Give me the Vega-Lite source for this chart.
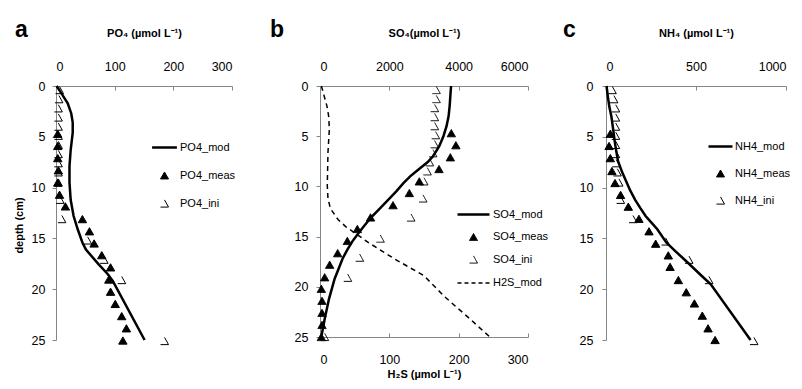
{
  "$schema": "https://vega.github.io/schema/vega-lite/v6.json",
  "background": "white",
  "padding": {"left": 13, "top": 19, "right": 0, "bottom": 0},
  "spacing": 14,
  "resolve": {
    "scale": {"shape": "independent", "fill": "independent", "stroke": "independent", "strokeWidth": "independent", "strokeDash": "independent"},
    "legend": {"shape": "independent", "fill": "independent", "stroke": "independent", "strokeWidth": "independent", "strokeDash": "independent"}
  },
  "config": {
    "view": {"stroke": null},
    "axis": {"grid": false, "domainColor": "#868686", "tickColor": "#868686", "domainWidth": 1, "tickWidth": 1, "format": "d",
      "labelFont": "Liberation Sans", "labelFontSize": 12.5, "labelColor": "black",
      "titleFont": "Liberation Sans", "titleFontSize": 11, "titleFontWeight": "bold", "titleColor": "black"},
    "legend": {"labelFont": "Liberation Sans", "labelFontSize": 11, "labelColor": "black"},
    "title": {"font": "Liberation Sans", "fontSize": 23, "fontWeight": "bold", "anchor": "start", "frame": "group", "baseline": "alphabetic", "color": "black"}
  },
  "datasets": {
    "po4_mod": [
      {"depth": 0, "value": 1}, {"depth": 0.7, "value": 9}, {"depth": 1.7, "value": 20}, {"depth": 2.7, "value": 26},
      {"depth": 3.6, "value": 28.5}, {"depth": 4.6, "value": 28.5}, {"depth": 6.3, "value": 25}, {"depth": 7.9, "value": 23},
      {"depth": 9.5, "value": 23}, {"depth": 11.2, "value": 25}, {"depth": 12.8, "value": 30}, {"depth": 14.1, "value": 37},
      {"depth": 15.4, "value": 45}, {"depth": 16.1, "value": 51}, {"depth": 17.5, "value": 72}, {"depth": 18.5, "value": 88},
      {"depth": 19.2, "value": 97}, {"depth": 25, "value": 151}
    ],
    "po4_meas": [
      {"depth": 4.7, "value": 3, "series": "PO4_meas"}, {"depth": 5.9, "value": 3, "series": "PO4_meas"},
      {"depth": 7.1, "value": 3, "series": "PO4_meas"}, {"depth": 8.3, "value": 4, "series": "PO4_meas"},
      {"depth": 9.5, "value": 3, "series": "PO4_meas"}, {"depth": 10.7, "value": 6, "series": "PO4_meas"},
      {"depth": 11.85, "value": 16, "series": "PO4_meas"}, {"depth": 13.1, "value": 45, "series": "PO4_meas"},
      {"depth": 14.3, "value": 57, "series": "PO4_meas"}, {"depth": 15.5, "value": 65, "series": "PO4_meas"},
      {"depth": 16.65, "value": 78, "series": "PO4_meas"}, {"depth": 17.85, "value": 93, "series": "PO4_meas"},
      {"depth": 19.05, "value": 90, "series": "PO4_meas"}, {"depth": 20.25, "value": 93, "series": "PO4_meas"},
      {"depth": 21.45, "value": 101, "series": "PO4_meas"}, {"depth": 22.65, "value": 112, "series": "PO4_meas"},
      {"depth": 23.85, "value": 120, "series": "PO4_meas"}, {"depth": 25.05, "value": 114, "series": "PO4_meas"}
    ],
    "po4_ini": [
      {"depth": 0.4, "value": 6, "series": "PO4_ini"}, {"depth": 1.3, "value": 5, "series": "PO4_ini"},
      {"depth": 2.2, "value": 4, "series": "PO4_ini"}, {"depth": 3.1, "value": 4, "series": "PO4_ini"},
      {"depth": 4.0, "value": 4, "series": "PO4_ini"}, {"depth": 4.9, "value": 4, "series": "PO4_ini"},
      {"depth": 5.8, "value": 4, "series": "PO4_ini"}, {"depth": 6.7, "value": 4, "series": "PO4_ini"},
      {"depth": 7.6, "value": 4, "series": "PO4_ini"}, {"depth": 8.5, "value": 4, "series": "PO4_ini"},
      {"depth": 9.5, "value": 4, "series": "PO4_ini"}, {"depth": 11.2, "value": 7, "series": "PO4_ini"},
      {"depth": 13.1, "value": 10, "series": "PO4_ini"}, {"depth": 15.2, "value": 54, "series": "PO4_ini"},
      {"depth": 17.1, "value": 82, "series": "PO4_ini"}, {"depth": 19.1, "value": 112, "series": "PO4_ini"},
      {"depth": 25.1, "value": 185, "series": "PO4_ini"}
    ],
    "so4_mod": [
      {"depth": 0, "value": 3780}, {"depth": 1, "value": 3760}, {"depth": 2, "value": 3740}, {"depth": 3, "value": 3710},
      {"depth": 4, "value": 3650}, {"depth": 5, "value": 3560}, {"depth": 6, "value": 3440}, {"depth": 7, "value": 3260},
      {"depth": 7.6, "value": 3100}, {"depth": 8.3, "value": 2850}, {"depth": 9, "value": 2600}, {"depth": 9.7, "value": 2400},
      {"depth": 10.5, "value": 2200}, {"depth": 11.3, "value": 1980}, {"depth": 12.2, "value": 1730}, {"depth": 13.1, "value": 1470},
      {"depth": 14, "value": 1260}, {"depth": 14.8, "value": 1080}, {"depth": 15.5, "value": 930}, {"depth": 16.3, "value": 790},
      {"depth": 17.2, "value": 650}, {"depth": 18, "value": 560}, {"depth": 19.2, "value": 423}, {"depth": 21.2, "value": 260},
      {"depth": 23.2, "value": 135}, {"depth": 25, "value": 38}
    ],
    "so4_meas": [
      {"depth": 4.7, "value": 3788, "series": "SO4_meas"}, {"depth": 5.9, "value": 3920, "series": "SO4_meas"},
      {"depth": 7.1, "value": 3760, "series": "SO4_meas"}, {"depth": 8.27, "value": 3433, "series": "SO4_meas"},
      {"depth": 9.5, "value": 2865, "series": "SO4_meas"}, {"depth": 10.66, "value": 2577, "series": "SO4_meas"},
      {"depth": 11.87, "value": 2106, "series": "SO4_meas"}, {"depth": 13.09, "value": 1457, "series": "SO4_meas"},
      {"depth": 14.24, "value": 1077, "series": "SO4_meas"}, {"depth": 15.43, "value": 788, "series": "SO4_meas"},
      {"depth": 16.65, "value": 510, "series": "SO4_meas"}, {"depth": 17.8, "value": 279, "series": "SO4_meas"},
      {"depth": 19.05, "value": 135, "series": "SO4_meas"}, {"depth": 20.2, "value": 38, "series": "SO4_meas"},
      {"depth": 21.4, "value": 58, "series": "SO4_meas"}, {"depth": 22.6, "value": 58, "series": "SO4_meas"},
      {"depth": 23.8, "value": 58, "series": "SO4_meas"}, {"depth": 25.0, "value": 38, "series": "SO4_meas"}
    ],
    "so4_ini": [
      {"depth": 0.4, "value": 3355, "series": "SO4_ini"}, {"depth": 1.3, "value": 3355, "series": "SO4_ini"},
      {"depth": 2.2, "value": 3307, "series": "SO4_ini"}, {"depth": 3.1, "value": 3307, "series": "SO4_ini"},
      {"depth": 4.0, "value": 3307, "series": "SO4_ini"}, {"depth": 4.9, "value": 3336, "series": "SO4_ini"},
      {"depth": 5.8, "value": 3307, "series": "SO4_ini"}, {"depth": 6.7, "value": 3259, "series": "SO4_ini"},
      {"depth": 7.6, "value": 3163, "series": "SO4_ini"}, {"depth": 8.5, "value": 3096, "series": "SO4_ini"},
      {"depth": 9.5, "value": 3000, "series": "SO4_ini"}, {"depth": 11.2, "value": 2971, "series": "SO4_ini"},
      {"depth": 13.1, "value": 2625, "series": "SO4_ini"}, {"depth": 15.2, "value": 1740, "series": "SO4_ini"},
      {"depth": 17.1, "value": 1144, "series": "SO4_ini"}, {"depth": 19.1, "value": 800, "series": "SO4_ini"},
      {"depth": 25.0, "value": 135, "series": "SO4_ini"}
    ],
    "h2s_mod": [
      {"depth": 0, "value": 2}, {"depth": 1, "value": 6}, {"depth": 2, "value": 10}, {"depth": 3, "value": 12.5},
      {"depth": 4.3, "value": 13.5}, {"depth": 6.6, "value": 11.5}, {"depth": 9.9, "value": 10.5}, {"depth": 11.2, "value": 11.5},
      {"depth": 12.2, "value": 15}, {"depth": 13.3, "value": 26}, {"depth": 14, "value": 37}, {"depth": 15.6, "value": 70},
      {"depth": 17.2, "value": 107}, {"depth": 18.9, "value": 150}, {"depth": 21, "value": 180}, {"depth": 23, "value": 213},
      {"depth": 25, "value": 245}
    ],
    "nh4_mod": [
      {"depth": 0, "value": 3}, {"depth": 1, "value": 10}, {"depth": 2, "value": 18}, {"depth": 3, "value": 30},
      {"depth": 4.3, "value": 40}, {"depth": 5.4, "value": 48}, {"depth": 6.3, "value": 56}, {"depth": 7.4, "value": 67},
      {"depth": 8.5, "value": 90}, {"depth": 9.5, "value": 115}, {"depth": 10.3, "value": 135}, {"depth": 11.2, "value": 162},
      {"depth": 12, "value": 190}, {"depth": 12.8, "value": 220}, {"depth": 13.5, "value": 255}, {"depth": 14.1, "value": 285},
      {"depth": 15.4, "value": 335}, {"depth": 16.2, "value": 382}, {"depth": 17.2, "value": 443}, {"depth": 18.9, "value": 544},
      {"depth": 19.5, "value": 581}, {"depth": 25, "value": 803}
    ],
    "nh4_meas": [
      {"depth": 4.7, "value": 24, "series": "NH4_meas"}, {"depth": 5.9, "value": 17, "series": "NH4_meas"},
      {"depth": 7.1, "value": 24, "series": "NH4_meas"}, {"depth": 8.37, "value": 33, "series": "NH4_meas"},
      {"depth": 9.55, "value": 50, "series": "NH4_meas"}, {"depth": 10.72, "value": 81, "series": "NH4_meas"},
      {"depth": 11.88, "value": 124, "series": "NH4_meas"}, {"depth": 13.07, "value": 183, "series": "NH4_meas"},
      {"depth": 14.3, "value": 239, "series": "NH4_meas"}, {"depth": 15.52, "value": 276, "series": "NH4_meas"},
      {"depth": 16.67, "value": 346, "series": "NH4_meas"}, {"depth": 17.8, "value": 356, "series": "NH4_meas"},
      {"depth": 19.1, "value": 402, "series": "NH4_meas"}, {"depth": 20.3, "value": 446, "series": "NH4_meas"},
      {"depth": 21.4, "value": 491, "series": "NH4_meas"}, {"depth": 22.6, "value": 535, "series": "NH4_meas"},
      {"depth": 23.85, "value": 567, "series": "NH4_meas"}, {"depth": 25.0, "value": 606, "series": "NH4_meas"}
    ],
    "nh4_ini": [
      {"depth": 0.4, "value": 35, "series": "NH4_ini"}, {"depth": 1.3, "value": 44, "series": "NH4_ini"},
      {"depth": 2.2, "value": 54, "series": "NH4_ini"}, {"depth": 3.1, "value": 54, "series": "NH4_ini"},
      {"depth": 4.0, "value": 54, "series": "NH4_ini"}, {"depth": 4.9, "value": 54, "series": "NH4_ini"},
      {"depth": 5.8, "value": 54, "series": "NH4_ini"}, {"depth": 6.7, "value": 54, "series": "NH4_ini"},
      {"depth": 7.6, "value": 57, "series": "NH4_ini"}, {"depth": 8.5, "value": 63, "series": "NH4_ini"},
      {"depth": 9.5, "value": 72, "series": "NH4_ini"}, {"depth": 11.2, "value": 81, "series": "NH4_ini"},
      {"depth": 13.1, "value": 150, "series": "NH4_ini"}, {"depth": 15.3, "value": 331, "series": "NH4_ini"},
      {"depth": 17.1, "value": 461, "series": "NH4_ini"}, {"depth": 19.1, "value": 572, "series": "NH4_ini"},
      {"depth": 25.1, "value": 822, "series": "NH4_ini"}
    ]
  },
  "hconcat": [
    {
      "width": 176, "height": 254,
      "title": {"text": "a", "dx": -41, "offset": -15},
      "layer": [
        {"data": {"name": "po4_mod"}, "mark": {"type": "line", "color": "black", "strokeWidth": 2.5},
          "encoding": {
            "x": {"field": "value", "type": "quantitative", "title": "PO₄ (µmol L⁻¹)", "scale": {"domain": [0, 300], "nice": false, "zero": false},
              "axis": {"orient": "top", "values": [0, 100, 200, 300], "tickSize": -4, "labelPadding": 17, "titlePadding": 22}},
            "y": {"field": "depth", "type": "quantitative", "title": "depth (cm)", "scale": {"domain": [0, 25], "reverse": true, "nice": false, "zero": false},
              "axis": {"values": [0, 5, 10, 15, 20, 25], "tickSize": 4, "labelPadding": 7, "titlePadding": 7, "titleY": 139}},
            "order": {"field": "depth", "type": "quantitative"}}},
        {"data": {"name": "po4_meas"}, "mark": {"type": "point", "filled": true, "opacity": 1, "size": 70},
          "encoding": {
            "x": {"field": "value", "type": "quantitative", "title": "PO₄ (µmol L⁻¹)", "scale": {"domain": [0, 300], "nice": false, "zero": false}},
            "y": {"field": "depth", "type": "quantitative", "title": "depth (cm)", "scale": {"domain": [0, 25], "reverse": true, "nice": false, "zero": false}},
            "shape": {"field": "series", "type": "nominal", "scale": {"domain": ["PO4_mod", "PO4_meas", "PO4_ini"], "range": ["M-3.1,0L3.1,0", "triangle-up", "M0,-0.9L1,0.9L-1,0.9"]},
              "legend": {"orient": "none", "legendX": 103, "legendY": 56, "title": null, "padding": 0, "symbolSize": 64, "labelOffset": 10, "rowPadding": 16}},
            "fill": {"field": "series", "type": "nominal", "scale": {"domain": ["PO4_mod", "PO4_meas", "PO4_ini"], "range": ["transparent", "black", "transparent"]},
              "legend": {"orient": "none", "legendX": 103, "legendY": 56, "title": null, "padding": 0, "symbolSize": 64, "labelOffset": 10, "rowPadding": 16}},
            "stroke": {"field": "series", "type": "nominal", "scale": {"domain": ["PO4_mod", "PO4_meas", "PO4_ini"], "range": ["black", "black", "black"]},
              "legend": {"orient": "none", "legendX": 103, "legendY": 56, "title": null, "padding": 0, "symbolSize": 64, "labelOffset": 10, "rowPadding": 16}},
            "strokeWidth": {"field": "series", "type": "nominal", "scale": {"type": "ordinal", "domain": ["PO4_mod", "PO4_meas", "PO4_ini"], "range": [2.5, 1, 1]},
              "legend": {"orient": "none", "legendX": 103, "legendY": 56, "title": null, "padding": 0, "symbolSize": 64, "labelOffset": 10, "rowPadding": 16}}}},
        {"data": {"name": "po4_ini"}, "mark": {"type": "point", "filled": true, "opacity": 1, "size": 64},
          "encoding": {
            "x": {"field": "value", "type": "quantitative", "title": "PO₄ (µmol L⁻¹)", "scale": {"domain": [0, 300], "nice": false, "zero": false}},
            "y": {"field": "depth", "type": "quantitative", "title": "depth (cm)", "scale": {"domain": [0, 25], "reverse": true, "nice": false, "zero": false}},
            "shape": {"field": "series", "type": "nominal", "scale": {"domain": ["PO4_mod", "PO4_meas", "PO4_ini"], "range": ["M-3.1,0L3.1,0", "triangle-up", "M0,-0.9L1,0.9L-1,0.9"]},
              "legend": {"orient": "none", "legendX": 103, "legendY": 56, "title": null, "padding": 0, "symbolSize": 64, "labelOffset": 10, "rowPadding": 16}},
            "fill": {"field": "series", "type": "nominal", "scale": {"domain": ["PO4_mod", "PO4_meas", "PO4_ini"], "range": ["transparent", "black", "transparent"]},
              "legend": {"orient": "none", "legendX": 103, "legendY": 56, "title": null, "padding": 0, "symbolSize": 64, "labelOffset": 10, "rowPadding": 16}},
            "stroke": {"field": "series", "type": "nominal", "scale": {"domain": ["PO4_mod", "PO4_meas", "PO4_ini"], "range": ["black", "black", "black"]},
              "legend": {"orient": "none", "legendX": 103, "legendY": 56, "title": null, "padding": 0, "symbolSize": 64, "labelOffset": 10, "rowPadding": 16}},
            "strokeWidth": {"field": "series", "type": "nominal", "scale": {"type": "ordinal", "domain": ["PO4_mod", "PO4_meas", "PO4_ini"], "range": [2.5, 1, 1]},
              "legend": {"orient": "none", "legendX": 103, "legendY": 56, "title": null, "padding": 0, "symbolSize": 64, "labelOffset": 10, "rowPadding": 16}}}}
      ]
    },
    {
      "width": 208, "height": 251,
      "title": {"text": "b", "dx": -50, "offset": -15},
      "layer": [
        {"layer": [
          {"data": {"name": "so4_mod"}, "mark": {"type": "line", "color": "black", "strokeWidth": 2.5},
            "encoding": {
              "x": {"field": "value", "type": "quantitative", "title": "SO₄(µmol L⁻¹)", "scale": {"domain": [0, 6000], "nice": false, "zero": false},
                "axis": {"orient": "top", "values": [0, 2000, 4000, 6000], "tickSize": -4, "labelPadding": 17, "titlePadding": 22}},
              "y": {"field": "depth", "type": "quantitative", "title": ".", "scale": {"domain": [0, 25], "reverse": true, "nice": false, "zero": false},
                "axis": {"values": [0, 5, 10, 15, 20, 25], "tickSize": 4, "labelPadding": 8, "titlePadding": 33, "titleColor": "transparent"}},
              "order": {"field": "depth", "type": "quantitative"}}},
          {"data": {"name": "so4_meas"}, "mark": {"type": "point", "filled": true, "opacity": 1, "size": 70},
            "encoding": {
              "x": {"field": "value", "type": "quantitative", "title": "SO₄(µmol L⁻¹)", "scale": {"domain": [0, 6000], "nice": false, "zero": false}},
              "y": {"field": "depth", "type": "quantitative", "title": ".", "scale": {"domain": [0, 25], "reverse": true, "nice": false, "zero": false}},
              "shape": {"field": "series", "type": "nominal", "scale": {"domain": ["SO4_mod", "SO4_meas", "SO4_ini", "H2S_mod"], "range": ["M-4,0L4,0", "triangle-up", "M0,-0.9L1,0.9L-1,0.9", "M-4,0L4,0"]},
                "legend": {"orient": "none", "legendX": 148, "legendY": 123, "title": null, "padding": 0, "symbolSize": 64, "labelOffset": 14, "rowPadding": 10.5}},
              "fill": {"field": "series", "type": "nominal", "scale": {"domain": ["SO4_mod", "SO4_meas", "SO4_ini", "H2S_mod"], "range": ["transparent", "black", "transparent", "transparent"]},
                "legend": {"orient": "none", "legendX": 148, "legendY": 123, "title": null, "padding": 0, "symbolSize": 64, "labelOffset": 14, "rowPadding": 10.5}},
              "stroke": {"field": "series", "type": "nominal", "scale": {"domain": ["SO4_mod", "SO4_meas", "SO4_ini", "H2S_mod"], "range": ["black", "black", "black", "black"]},
                "legend": {"orient": "none", "legendX": 148, "legendY": 123, "title": null, "padding": 0, "symbolSize": 64, "labelOffset": 14, "rowPadding": 10.5}},
              "strokeWidth": {"field": "series", "type": "nominal", "scale": {"type": "ordinal", "domain": ["SO4_mod", "SO4_meas", "SO4_ini", "H2S_mod"], "range": [2.5, 1, 1, 1.5]},
                "legend": {"orient": "none", "legendX": 148, "legendY": 123, "title": null, "padding": 0, "symbolSize": 64, "labelOffset": 14, "rowPadding": 10.5}},
              "strokeDash": {"field": "series", "type": "nominal", "scale": {"domain": ["SO4_mod", "SO4_meas", "SO4_ini", "H2S_mod"], "range": [[1, 0], [1, 0], [1, 0], [4, 3]]},
                "legend": {"orient": "none", "legendX": 148, "legendY": 123, "title": null, "padding": 0, "symbolSize": 64, "labelOffset": 14, "rowPadding": 10.5}}}},
          {"data": {"name": "so4_ini"}, "mark": {"type": "point", "filled": true, "opacity": 1, "size": 64},
            "encoding": {
              "x": {"field": "value", "type": "quantitative", "title": "SO₄(µmol L⁻¹)", "scale": {"domain": [0, 6000], "nice": false, "zero": false}},
              "y": {"field": "depth", "type": "quantitative", "title": ".", "scale": {"domain": [0, 25], "reverse": true, "nice": false, "zero": false}},
              "shape": {"field": "series", "type": "nominal", "scale": {"domain": ["SO4_mod", "SO4_meas", "SO4_ini", "H2S_mod"], "range": ["M-4,0L4,0", "triangle-up", "M0,-0.9L1,0.9L-1,0.9", "M-4,0L4,0"]},
                "legend": {"orient": "none", "legendX": 148, "legendY": 123, "title": null, "padding": 0, "symbolSize": 64, "labelOffset": 14, "rowPadding": 10.5}},
              "fill": {"field": "series", "type": "nominal", "scale": {"domain": ["SO4_mod", "SO4_meas", "SO4_ini", "H2S_mod"], "range": ["transparent", "black", "transparent", "transparent"]},
                "legend": {"orient": "none", "legendX": 148, "legendY": 123, "title": null, "padding": 0, "symbolSize": 64, "labelOffset": 14, "rowPadding": 10.5}},
              "stroke": {"field": "series", "type": "nominal", "scale": {"domain": ["SO4_mod", "SO4_meas", "SO4_ini", "H2S_mod"], "range": ["black", "black", "black", "black"]},
                "legend": {"orient": "none", "legendX": 148, "legendY": 123, "title": null, "padding": 0, "symbolSize": 64, "labelOffset": 14, "rowPadding": 10.5}},
              "strokeWidth": {"field": "series", "type": "nominal", "scale": {"type": "ordinal", "domain": ["SO4_mod", "SO4_meas", "SO4_ini", "H2S_mod"], "range": [2.5, 1, 1, 1.5]},
                "legend": {"orient": "none", "legendX": 148, "legendY": 123, "title": null, "padding": 0, "symbolSize": 64, "labelOffset": 14, "rowPadding": 10.5}},
              "strokeDash": {"field": "series", "type": "nominal", "scale": {"domain": ["SO4_mod", "SO4_meas", "SO4_ini", "H2S_mod"], "range": [[1, 0], [1, 0], [1, 0], [4, 3]]},
                "legend": {"orient": "none", "legendX": 148, "legendY": 123, "title": null, "padding": 0, "symbolSize": 64, "labelOffset": 14, "rowPadding": 10.5}}}}
        ]},
        {"data": {"name": "h2s_mod"}, "mark": {"type": "line", "color": "black", "strokeWidth": 1.5, "strokeDash": [5, 4]},
          "encoding": {
            "x": {"field": "value", "type": "quantitative", "title": "H₂S (µmol L⁻¹)", "scale": {"domain": [0, 300], "nice": false, "zero": false},
              "axis": {"orient": "bottom", "values": [0, 100, 200, 300], "tickSize": -4, "labelPadding": 20, "titlePadding": 3}},
            "y": {"field": "depth", "type": "quantitative", "title": ".", "scale": {"domain": [0, 25], "reverse": true, "nice": false, "zero": false}},
            "order": {"field": "depth", "type": "quantitative"}}}
      ],
      "resolve": {"scale": {"x": "independent"}, "axis": {"x": "independent"}}
    },
    {
      "width": 180, "height": 254,
      "title": {"text": "c", "dx": -43, "offset": -15},
      "layer": [
        {"data": {"name": "nh4_mod"}, "mark": {"type": "line", "color": "black", "strokeWidth": 2.5},
          "encoding": {
            "x": {"field": "value", "type": "quantitative", "title": "NH₄ (µmol L⁻¹)", "scale": {"domain": [0, 1000], "nice": false, "zero": false},
              "axis": {"orient": "top", "values": [0, 500, 1000], "tickSize": -4, "labelPadding": 17, "titlePadding": 22}},
            "y": {"field": "depth", "type": "quantitative", "title": null, "scale": {"domain": [0, 25], "reverse": true, "nice": false, "zero": false},
              "axis": {"values": [0, 5, 10, 15, 20, 25], "tickSize": 4, "labelPadding": 9}},
            "order": {"field": "depth", "type": "quantitative"}}},
        {"data": {"name": "nh4_meas"}, "mark": {"type": "point", "filled": true, "opacity": 1, "size": 70},
          "encoding": {
            "x": {"field": "value", "type": "quantitative", "title": "NH₄ (µmol L⁻¹)", "scale": {"domain": [0, 1000], "nice": false, "zero": false}},
            "y": {"field": "depth", "type": "quantitative", "title": null, "scale": {"domain": [0, 25], "reverse": true, "nice": false, "zero": false}},
            "shape": {"field": "series", "type": "nominal", "scale": {"domain": ["NH4_mod", "NH4_meas", "NH4_ini"], "range": ["M-3,0L3,0", "triangle-up", "M0,-0.9L1,0.9L-1,0.9"]},
              "legend": {"orient": "none", "legendX": 109, "legendY": 55, "title": null, "padding": 0, "symbolSize": 64, "labelOffset": 9, "rowPadding": 15}},
            "fill": {"field": "series", "type": "nominal", "scale": {"domain": ["NH4_mod", "NH4_meas", "NH4_ini"], "range": ["transparent", "black", "transparent"]},
              "legend": {"orient": "none", "legendX": 109, "legendY": 55, "title": null, "padding": 0, "symbolSize": 64, "labelOffset": 9, "rowPadding": 15}},
            "stroke": {"field": "series", "type": "nominal", "scale": {"domain": ["NH4_mod", "NH4_meas", "NH4_ini"], "range": ["black", "black", "black"]},
              "legend": {"orient": "none", "legendX": 109, "legendY": 55, "title": null, "padding": 0, "symbolSize": 64, "labelOffset": 9, "rowPadding": 15}},
            "strokeWidth": {"field": "series", "type": "nominal", "scale": {"type": "ordinal", "domain": ["NH4_mod", "NH4_meas", "NH4_ini"], "range": [2.5, 1, 1]},
              "legend": {"orient": "none", "legendX": 109, "legendY": 55, "title": null, "padding": 0, "symbolSize": 64, "labelOffset": 9, "rowPadding": 15}}}},
        {"data": {"name": "nh4_ini"}, "mark": {"type": "point", "filled": true, "opacity": 1, "size": 64},
          "encoding": {
            "x": {"field": "value", "type": "quantitative", "title": "NH₄ (µmol L⁻¹)", "scale": {"domain": [0, 1000], "nice": false, "zero": false}},
            "y": {"field": "depth", "type": "quantitative", "title": null, "scale": {"domain": [0, 25], "reverse": true, "nice": false, "zero": false}},
            "shape": {"field": "series", "type": "nominal", "scale": {"domain": ["NH4_mod", "NH4_meas", "NH4_ini"], "range": ["M-3,0L3,0", "triangle-up", "M0,-0.9L1,0.9L-1,0.9"]},
              "legend": {"orient": "none", "legendX": 109, "legendY": 55, "title": null, "padding": 0, "symbolSize": 64, "labelOffset": 9, "rowPadding": 15}},
            "fill": {"field": "series", "type": "nominal", "scale": {"domain": ["NH4_mod", "NH4_meas", "NH4_ini"], "range": ["transparent", "black", "transparent"]},
              "legend": {"orient": "none", "legendX": 109, "legendY": 55, "title": null, "padding": 0, "symbolSize": 64, "labelOffset": 9, "rowPadding": 15}},
            "stroke": {"field": "series", "type": "nominal", "scale": {"domain": ["NH4_mod", "NH4_meas", "NH4_ini"], "range": ["black", "black", "black"]},
              "legend": {"orient": "none", "legendX": 109, "legendY": 55, "title": null, "padding": 0, "symbolSize": 64, "labelOffset": 9, "rowPadding": 15}},
            "strokeWidth": {"field": "series", "type": "nominal", "scale": {"type": "ordinal", "domain": ["NH4_mod", "NH4_meas", "NH4_ini"], "range": [2.5, 1, 1]},
              "legend": {"orient": "none", "legendX": 109, "legendY": 55, "title": null, "padding": 0, "symbolSize": 64, "labelOffset": 9, "rowPadding": 15}}}}
      ]
    }
  ]
}
